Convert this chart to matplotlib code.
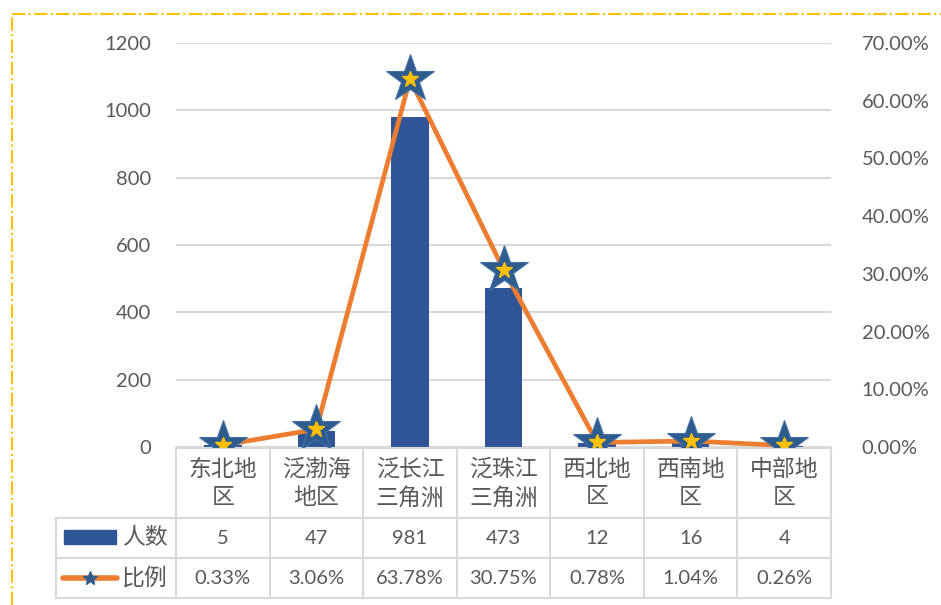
import matplotlib.pyplot as plt
import matplotlib.transforms as mtransforms
from matplotlib.patches import Rectangle
from matplotlib.lines import Line2D

plt.rcParams['font.family'] = ['Lato', 'Noto Sans CJK SC', 'DejaVu Sans']

regions = ['东北地\n区', '泛渤海\n地区', '泛长江\n三角洲', '泛珠江\n三角洲', '西北地\n区', '西南地\n区', '中部地\n区']
counts = [5, 47, 981, 473, 12, 16, 4]
ratios = [0.33, 3.06, 63.78, 30.75, 0.78, 1.04, 0.26]  # percent
left_ticks = [0, 200, 400, 600, 800, 1000, 1200]
right_ticks = [0, 10, 20, 30, 40, 50, 60, 70]

navy = '#2F5597'
orange = '#ED7D31'
gold = '#FFC000'
grey = '#595959'
grid = '#D9D9D9'

fig = plt.figure(figsize=(9.41, 6.05), dpi=100)
ax = fig.add_axes([176 / 941, 1 - 447 / 605, (831 - 176) / 941, 404 / 605])
ax2 = ax.twinx()

x = list(range(len(regions)))
ax.bar(x, counts, width=0.4, color=navy, zorder=2)
ax.set_xlim(-0.5, len(regions) - 0.5)
ax.set_ylim(0, 1200)
ax.set_yticks(left_ticks)
ax.set_yticklabels([str(t) for t in left_ticks], fontsize=14.5, color=grey)
ax.yaxis.grid(True, color=grid, linewidth=1.5, zorder=0)
ax.set_axisbelow(True)
ax.tick_params(axis='y', length=0, pad=18)
ax.set_xticks([])
for s in ax.spines.values():
    s.set_visible(False)

ax2.plot(x, ratios, color=orange, linewidth=3.4, zorder=3)
ax2.plot(x, ratios, linestyle='none', marker='*', markersize=36,
         markerfacecolor='#2E5C8E', markeredgecolor='#4470A6', markeredgewidth=0.8, zorder=4)
ax2.plot(x, ratios, linestyle='none', marker='*', markersize=12,
         markerfacecolor=gold, markeredgecolor=gold, zorder=5)
ax2.set_ylim(0, 70)
ax2.set_yticks(right_ticks)
ax2.set_yticklabels(['%.2f%%' % t for t in right_ticks], fontsize=14.5, color=grey)
ax2.tick_params(axis='y', length=0, pad=22)
for s in ax2.spines.values():
    s.set_visible(False)

# data table under the plot
tr = mtransforms.blended_transform_factory(ax.transData, ax.transAxes)
def fy(py):
    return (447 - py) / 404

y_top, y_r1, y_r2, y_bot = fy(448), fy(518), fy(558), fy(598)
x0, x1 = -0.5, len(regions) - 0.5
xkey = -0.5 - 120 / 93.57
lw = 1.5
ax.add_line(Line2D([x0, x1], [y_top, y_top], transform=tr, color=grid, lw=lw, clip_on=False))
for yy in [y_r1, y_r2, y_bot]:
    ax.add_line(Line2D([xkey, x1], [yy, yy], transform=tr, color=grid, lw=lw, clip_on=False))
for i in range(len(regions) + 1):
    ax.add_line(Line2D([i - 0.5, i - 0.5], [y_top, y_bot], transform=tr, color=grid, lw=lw, clip_on=False))
ax.add_line(Line2D([xkey, xkey], [y_r1, y_bot], transform=tr, color=grid, lw=lw, clip_on=False))

for i in x:
    ax.text(i, (y_top + y_r1) / 2, regions[i], transform=tr, ha='center', va='center',
            fontsize=16.5, color=grey, linespacing=1.4, fontweight='light')
    ax.text(i, (y_r1 + y_r2) / 2, str(counts[i]), transform=tr, ha='center', va='center',
            fontsize=14.5, color=grey)
    ax.text(i, (y_r2 + y_bot) / 2, '%.2f%%' % ratios[i], transform=tr, ha='center', va='center',
            fontsize=14.5, color=grey)

# legend keys inside the table
px = lambda p: -0.5 + (p - 176) / 93.57
ax.add_patch(Rectangle((px(64), fy(544)), px(116) - px(64), fy(530) - fy(544), transform=tr,
                       color=navy, clip_on=False))
ax.text(px(122), (y_r1 + y_r2) / 2, '人数', transform=tr, ha='left', va='center', fontsize=16.5,
        color=grey, fontweight='light')
ax.add_line(Line2D([px(63), px(117)], [fy(578), fy(578)], transform=tr, color=orange, lw=4,
                   solid_capstyle='round', clip_on=False))
ax.add_line(Line2D([px(90)], [fy(578)], transform=tr, marker='*', markersize=10,
                   markerfacecolor='#2E5C8E', markeredgecolor='#2E5C8E', clip_on=False))
ax.text(px(122), (y_r2 + y_bot) / 2, '比例', transform=tr, ha='left', va='center', fontsize=16.5,
        color=grey, fontweight='light')

# dash-dot chart border (top and left visible)
fig.add_artist(Line2D([12 / 941, 1], [1 - 14 / 605, 1 - 14 / 605], transform=fig.transFigure,
                      color=gold, lw=1.5, linestyle='-.'))
fig.add_artist(Line2D([12 / 941, 12 / 941], [0, 1 - 14 / 605], transform=fig.transFigure,
                      color=gold, lw=1.5, linestyle='-.'))

fig.savefig('out.png', dpi=100)
